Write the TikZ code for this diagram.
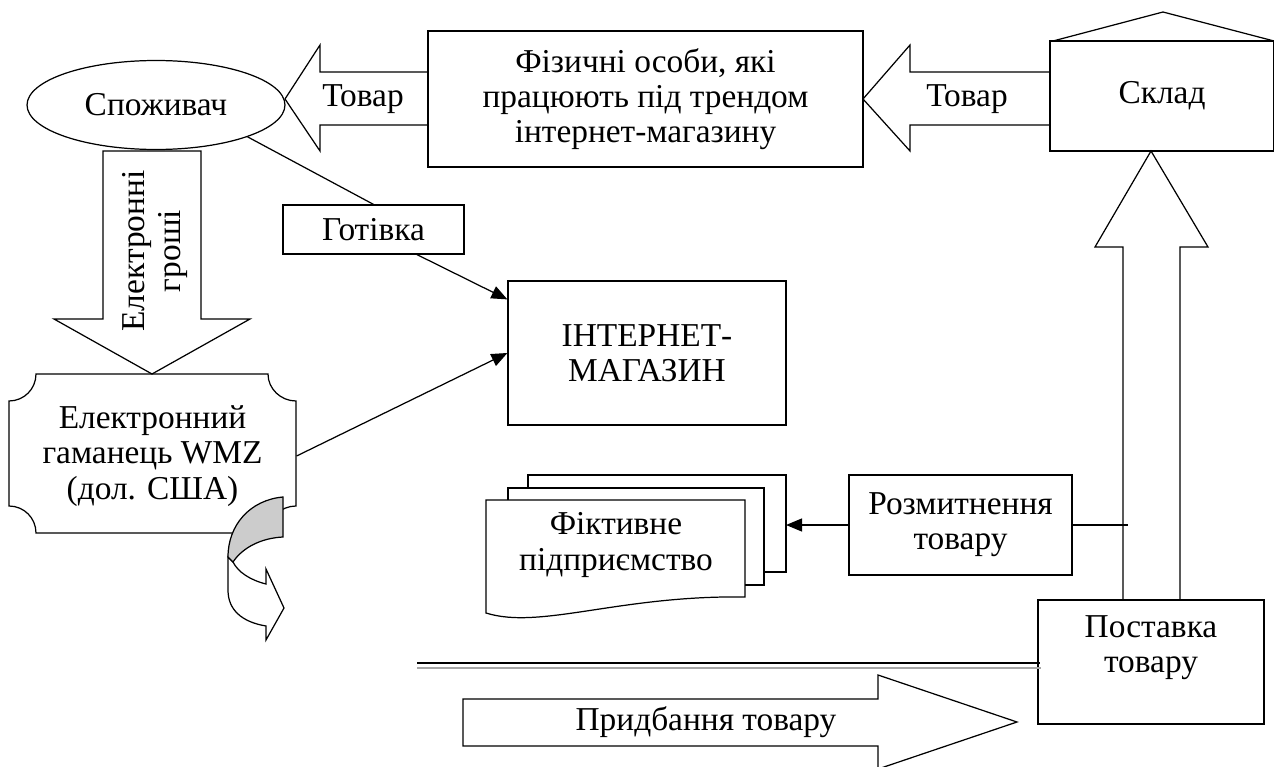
\documentclass[tikz,border=0pt]{standalone}
\usepackage{fontspec}
\setmainfont{Liberation Serif}
\usetikzlibrary{shapes.geometric,arrows.meta}

\begin{document}
\begin{tikzpicture}[x=0.02cm, y=-0.02cm, line width=0.7pt,
    font=\fontsize{19}{20}\selectfont,
    blok/.style={draw, align=center, inner sep=0pt},
    tekst/.style={align=center, inner sep=0pt},
    strilka/.style={-{Triangle[length=0.32cm,width=0.26cm]}}]
    \useasboundingbox (0,0) rectangle (1274,767);

    % вузли
    \node[draw, ellipse, inner sep=0pt, minimum width=5.16cm, minimum height=1.78cm] (spozh) at (156,105) {Споживач};
    \node[blok, minimum width=8.7cm, minimum height=2.72cm] (osoby) at (645.5,99) {Фізичні особи, які\\працюють під трендом\\інтернет-магазину};
    \node[blok, minimum width=4.48cm, minimum height=2.2cm] (sklad) at (1162,96) {Склад};
    \node[blok, minimum width=3.62cm, minimum height=0.98cm] (gotivka) at (373.5,229.5) {Готівка};
    \node[blok, minimum width=5.56cm, minimum height=2.88cm] (magazyn) at (647,353) {ІНТЕРНЕТ-\\МАГАЗИН};
    \node[blok, minimum width=4.46cm, minimum height=2cm] (rozmyt) at (960.5,525) {Розмитнення\\товару};
    \node[blok, minimum width=4.52cm, minimum height=2.48cm] (postavka) at (1151,662) {};
    \node[tekst] (postavkatekst) at (1151,648) {Поставка\\товару};
    \node[tekst, minimum width=5.74cm, minimum height=3.18cm] (gamanets) at (152.5,456) {Електронний\\гаманець WMZ\\(дол. США)};

    % дах складу
    \draw (1053,41) -- (1163,12) -- (1274,41);

    % широкі стрілки "Товар"
    \draw (428,72) -- (320,72) -- (320,45) -- (285,99) -- (320,151) -- (320,125) -- (428,125);
    \node[tekst] (tovar1) at (363,99) {Товар};
    \draw (1050,72) -- (910,72) -- (910,45) -- (863,99) -- (910,151) -- (910,125) -- (1050,125);
    \node[tekst] (tovar2) at (967,99) {Товар};

    % стрілка від поставки до складу
    \draw (1123,600) -- (1123,247) -- (1095,247) -- (1151,151) -- (1208,247) -- (1180,247) -- (1180,600);

    % електронні гроші
    \draw (103,151) -- (103,319) -- (54,319) -- (152,374) -- (250,319) -- (201,319) -- (201,151) -- cycle;
    \node[tekst, rotate=90] (groshi) at (155,251) {Електронні\\гроші};

    % гаманець
    \draw (36,374) -- (268,374) .. controls (268,389) and (281,401) .. (296,401) -- (296,506)
        .. controls (281,506) and (268,518) .. (268,533) -- (36,533)
        .. controls (36,518) and (24,506) .. (9,506) -- (9,401)
        .. controls (24,401) and (36,389) .. (36,374) -- cycle;

    % закручена стрілка
    \draw[fill=white] (228,557) -- (228,590) .. controls (228,610) and (242,622) .. (266,626) -- (266,640)
        -- (284,608) -- (266,569) -- (266,584) .. controls (250,580) and (238,572) .. (233,562) -- cycle;
    \draw[fill=gray!40] (283,497) .. controls (250,500) and (228,525) .. (228,557) -- (233,562)
        .. controls (243,547) and (262,538) .. (283,537) -- cycle;

    % фіктивне підприємство
    \draw (528,488) -- (528,475) -- (786,475) -- (786,572) -- (764,572);
    \draw (508,500) -- (508,488) -- (764,488) -- (764,585) -- (745,585);
    \draw (486,500) -- (745,500) -- (745,597) .. controls (620,595) and (540,630) .. (486,613) -- cycle;
    \node[tekst] (pidpr) at (616,545) {Фіктивне\\підприємство};

    % зв'язки
    \draw (spozh.south east) -- (gotivka.north);
    \draw[strilka] (gotivka.-30) -- (magazyn.159);
    \draw[strilka] (gamanets.east) -- (magazyn.west);
    \coordinate (dokument) at (786,525);
    \draw[strilka] (rozmyt.west) -- (dokument);
    \coordinate (kinets) at (1128,525);
    \draw (rozmyt.east) -- (kinets);

    % подвійна лінія
    \draw (417,663) -- (1040,663);
    \draw[gray!70, line width=1pt] (417,668) -- (1041,668);

    % придбання товару
    \draw (463,699) -- (878,699) -- (878,675) -- (1017,722) -- (878,769) -- (878,746) -- (463,746) -- cycle;
    \node[tekst] (prydbannia) at (706,722) {Придбання товару};
\end{tikzpicture}
\end{document}
